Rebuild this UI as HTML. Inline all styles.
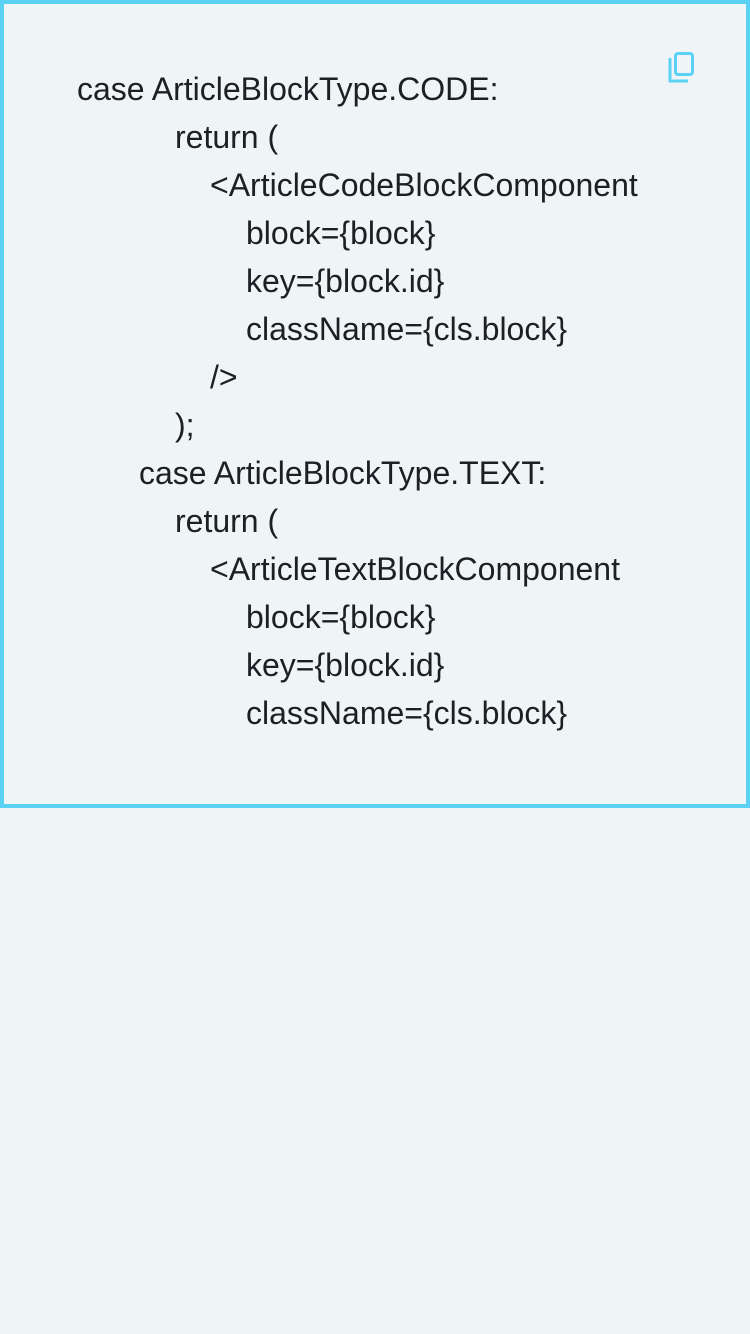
<!DOCTYPE html>
<html><head><meta charset="utf-8"><style>
html,body{margin:0;padding:0;background:#eff4f7;width:750px;height:1334px;overflow:hidden}
.box{position:absolute;left:0;top:0;width:742px;height:800px;border:4px solid #5bd2f4;background:#eff4f7}
.l{position:absolute;font-family:"Liberation Sans",Arial,sans-serif;font-size:32px;line-height:48px;color:#1c1f23;white-space:pre}
</style></head><body>
<div class="box"></div>
<svg style="position:absolute;left:664px;top:48px" width="36" height="40" viewBox="0 0 36 40">
<path d="M6 10 V33 H24" fill="none" stroke="#5bd2f4" stroke-width="3"/>
<rect x="11.5" y="5.5" width="17" height="21" rx="2.5" fill="none" stroke="#5bd2f4" stroke-width="3"/>
</svg>
<div class="l" style="left:77px;top:65px">case ArticleBlockType.CODE:</div>
<div class="l" style="left:175px;top:113px">return (</div>
<div class="l" style="left:210px;top:161px">&lt;ArticleCodeBlockComponent</div>
<div class="l" style="left:246px;top:209px">block={block}</div>
<div class="l" style="left:246px;top:257px">key={block.id}</div>
<div class="l" style="left:246px;top:305px">className={cls.block}</div>
<div class="l" style="left:210px;top:353px">/&gt;</div>
<div class="l" style="left:175px;top:401px">);</div>
<div class="l" style="left:139px;top:449px">case ArticleBlockType.TEXT:</div>
<div class="l" style="left:175px;top:497px">return (</div>
<div class="l" style="left:210px;top:545px">&lt;ArticleTextBlockComponent</div>
<div class="l" style="left:246px;top:593px">block={block}</div>
<div class="l" style="left:246px;top:641px">key={block.id}</div>
<div class="l" style="left:246px;top:689px">className={cls.block}</div>
</body></html>
